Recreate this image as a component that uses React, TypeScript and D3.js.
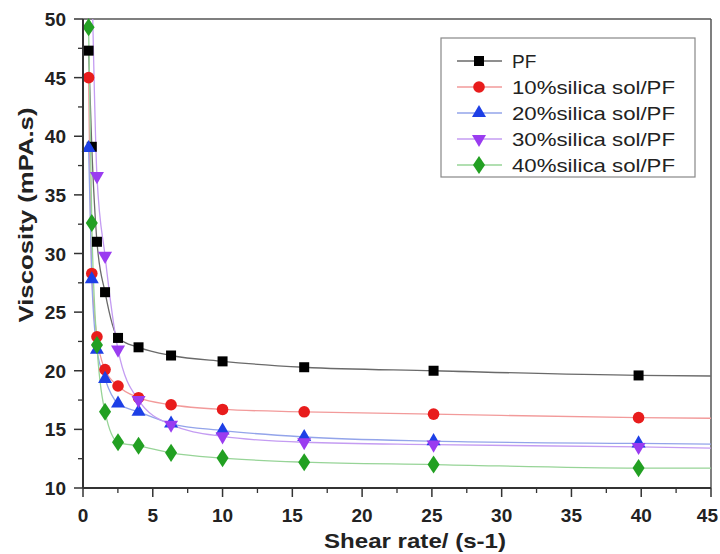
import React from "react";
import * as d3 from "d3";

const shearRates = [0.4, 0.63, 1.0, 1.58, 2.51, 3.98, 6.31, 10, 15.85, 25.12, 39.81];
const pfValues = [47.3, 39.1, 31.0, 26.7, 22.8, 22.0, 21.3, 20.8, 20.3, 20.0, 19.6];
const sol10Values = [45.0, 28.3, 22.9, 20.1, 18.7, 17.7, 17.1, 16.7, 16.5, 16.3, 16.0];
const sol20Values = [39.0, 27.8, 21.8, 19.3, 17.2, 16.5, 15.5, 14.9, 14.35, 14.0, 13.8];
const sol30Values = [NaN, 54.0, 36.6, 29.8, 21.8, 17.5, 15.4, 14.4, 13.9, 13.7, 13.5];
const sol40Values = [49.3, 32.6, 22.2, 16.5, 13.9, 13.6, 13.0, 12.55, 12.2, 12.0, 11.7];
// value where each fitted curve meets the right edge (x = 45)
const tailX = 45;
const tailValues = [19.55, 15.95, 13.75, 13.4, 11.7];

const seriesNames = ["PF", "10%silica sol/PF", "20%silica sol/PF", "30%silica sol/PF", "40%silica sol/PF"];
const markerColors = ["#000000", "#e81c1c", "#1d3fe6", "#9a3cf0", "#22a022"];
const lineColors = ["#6a6a6a", "#f29a9a", "#93a4ea", "#c49cf2", "#97d497"];
const markerShapes = ["square", "circle", "triangle", "triangleDown", "diamond"];

const xTicks = [0, 5, 10, 15, 20, 25, 30, 35, 40, 45];
const yTicks = [10, 15, 20, 25, 30, 35, 40, 45, 50];
const xMinor = [2.5, 7.5, 12.5, 17.5, 22.5, 27.5, 32.5, 37.5, 42.5];
const yMinor = [12.5, 17.5, 22.5, 27.5, 32.5, 37.5, 42.5, 47.5];

const allSeries = [pfValues, sol10Values, sol20Values, sol30Values, sol40Values];

const W = 720, H = 554;
const left = 83, right = 711, top = 19, bottom = 488;
const x = d3.scaleLinear().domain([0, 45]).range([left, right]);
const y = d3.scaleLinear().domain([10, 50]).range([bottom, top]);

function Marker({ shape, cx, cy, color }: { shape: string; cx: number; cy: number; color: string }) {
  if (shape === "square") return <rect x={cx - 5} y={cy - 5} width={10} height={10} fill={color} />;
  if (shape === "circle") return <circle cx={cx} cy={cy} r={5.8} fill={color} />;
  const sym = shape === "diamond" ? d3.symbolDiamond : d3.symbolTriangle;
  const size = shape === "diamond" ? 95 : 85;
  const p = d3.symbol().type(sym).size(size)()!;
  const rot = shape === "triangleDown" ? 180 : 0;
  const sx = shape === "diamond" ? 1.15 : 1;
  return <path d={p} transform={`translate(${cx},${cy}) rotate(${rot}) scale(${sx},1)`} fill={color} />;
}

export default function App() {
  const line = d3
    .line<[number, number]>()
    .x((d) => x(d[0]))
    .y((d) => y(d[1]))
    .curve(d3.curveMonotoneX);

  const font = "'Liberation Sans', Arial, sans-serif";
  const legX = 441, legY = 38;
  const rowY = (i: number) => 61 + i * 26;

  return (
    <svg width={W} height={H} style={{ position: "absolute", left: 0, top: 0, background: "#fff" }}>
      <defs>
        <clipPath id="plot">
          <rect x={left} y={top} width={right - left} height={bottom - top} />
        </clipPath>
      </defs>
      <rect width={W} height={H} fill="#fff" />
      {/* frame */}
      <line x1={left} x2={right} y1={top} y2={top} stroke="#555" strokeWidth={1.5} />
      <line x1={right} x2={right} y1={top} y2={bottom} stroke="#555" strokeWidth={1.5} />

      {/* curves */}
      <g clipPath="url(#plot)">
        {allSeries.map((vals, si) => {
          const pts: [number, number][] = shearRates.map((r, i) => [r, vals[i]] as [number, number]);
          pts.push([tailX, tailValues[si]]);
          const clean = pts.filter((d) => !isNaN(d[1]));
          return <path key={si} d={line(clean)!} fill="none" stroke={lineColors[si]} strokeWidth={1.3} />;
        })}
      </g>
      {/* markers */}
      {allSeries.map((vals, si) => (
        <g key={si}>
          {shearRates.map((r, i) =>
            !isNaN(vals[i]) && vals[i] <= 50 ? (
              <Marker key={i} shape={markerShapes[si]} cx={x(r)} cy={y(vals[i])} color={markerColors[si]} />
            ) : null
          )}
        </g>
      ))}

      {/* axes */}
      <line x1={left} x2={left} y1={top} y2={bottom} stroke="#333" strokeWidth={2} />
      <line x1={left} x2={right} y1={bottom} y2={bottom} stroke="#333" strokeWidth={2} />
      {xTicks.map((t, i) => {
        const last = i === xTicks.length - 1;
        return (
          <g key={t}>
            <line x1={x(t)} x2={x(t)} y1={bottom} y2={bottom + 9} stroke="#333" strokeWidth={1.5} />
            <text x={last ? 718 : x(t)} y={522} textAnchor={last ? "end" : "middle"} fontFamily={font} fontSize={19}
              fontWeight="bold" fill="#222">
              {t}
            </text>
          </g>
        );
      })}
      {xMinor.map((t) => (
        <line key={t} x1={x(t)} x2={x(t)} y1={bottom} y2={bottom + 5} stroke="#333" strokeWidth={1.3} />
      ))}
      {yTicks.map((t) => (
        <g key={t}>
          <line x1={left - 9} x2={left} y1={y(t)} y2={y(t)} stroke="#333" strokeWidth={1.5} />
          <text x={66} y={y(t) + 7} textAnchor="end" fontFamily={font} fontSize={19} fontWeight="bold" fill="#222">
            {t}
          </text>
        </g>
      ))}
      {yMinor.map((t) => (
        <line key={t} x1={left - 5} x2={left} y1={y(t)} y2={y(t)} stroke="#333" strokeWidth={1.3} />
      ))}

      {/* axis titles */}
      <text x={415} y={548} textAnchor="middle" fontFamily={font} fontSize={21} fontWeight="bold" fill="#222"
        textLength={182} lengthAdjust="spacingAndGlyphs">
        Shear rate/ (s-1)
      </text>
      <text transform={`translate(33,215) rotate(-90)`} textAnchor="middle" fontFamily={font} fontSize={21}
        fontWeight="bold" fill="#222" textLength={215} lengthAdjust="spacingAndGlyphs">
        Viscosity (mPA.s)
      </text>

      {/* legend */}
      <rect x={legX} y={legY} width={254} height={139} fill="#fff" stroke="#888" strokeWidth={1.2} />
      {seriesNames.map((n, i) => (
        <g key={n}>
          <line x1={457} x2={502} y1={rowY(i)} y2={rowY(i)} stroke={lineColors[i]} strokeWidth={1.5} />
          <Marker shape={markerShapes[i]} cx={479} cy={rowY(i)} color={markerColors[i]} />
          <text x={512} y={rowY(i) + 7} fontFamily={font} fontSize={19} fill="#222"
            {...(i > 0 ? { textLength: 163, lengthAdjust: "spacingAndGlyphs" } : {})}>
            {n}
          </text>
        </g>
      ))}
    </svg>
  );
}
